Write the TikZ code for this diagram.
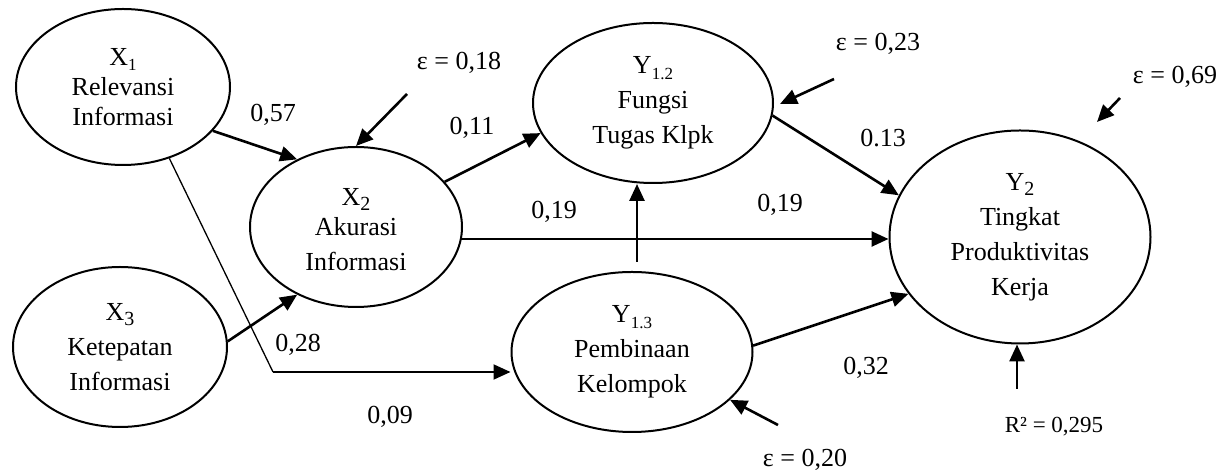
\documentclass[tikz,border=0pt]{standalone}
\usepackage{fontspec}
\setmainfont{Liberation Serif}
\usetikzlibrary{shapes.geometric,arrows.meta,calc}
\newcommand{\subs}[1]{\raisebox{-0.45ex}{\fontsize{8.5}{9}\selectfont #1}}
\newcommand{\subl}[1]{\raisebox{-0.45ex}{\fontsize{10}{10}\selectfont #1}}
\begin{document}
\begin{tikzpicture}[x=0.5pt,y=-0.5pt,
  latent/.style={draw, ellipse, line width=1pt, inner sep=0pt, align=center,
    font=\fontsize{13}{17.5}\selectfont},
  lbl/.style={inner sep=0pt, font=\fontsize{13}{15}\selectfont},
  smalllbl/.style={inner sep=0pt, font=\fontsize{11.5}{13}\selectfont},
  arr/.style={line width=1.3pt, -{Triangle[length=8.5pt,width=7.5pt]}},
  arrthin/.style={line width=1pt, -{Triangle[length=8.5pt,width=7.5pt]}},
  thinline/.style={line width=0.65pt}]
\useasboundingbox (0,0) rectangle (1232,474);

% latent variables
\node[latent, minimum width=107pt, minimum height=78pt,
  font=\fontsize{13}{15}\selectfont] (X1) at (123,87) {X\subs{1}\\Relevansi\\Informasi};
\node[latent, minimum width=106pt, minimum height=80pt] (X2) at (356,227) {\raisebox{-2.5pt}[\height][\depth]{X\subl{2}}\\Akurasi\\Informasi};
\node[latent, minimum width=107pt, minimum height=80pt] (X3) at (120,347) {X\subl{3}\\Ketepatan\\Informasi};
\node[latent, minimum width=120pt, minimum height=80pt] (Y12) at (653,103) {Y\subs{1.2}\\Fungsi\\Tugas Klpk};
\node[latent, minimum width=120.5pt, minimum height=80pt] (Y13) at (632,352) {Y\subs{1.3}\\Pembinaan\\Kelompok};
\node[latent, minimum width=130.5pt, minimum height=106.5pt] (Y2) at (1020,237) {Y\subl{2}\\Tingkat\\Produktivitas\\Kerja};

% labels
\node[lbl] (e18) at (459,63) {ε = 0,18};
\node[lbl] (l057) at (273,115) {0,57};
\node[lbl] (l011) at (472,128) {0,11};
\node[lbl] (l019a) at (554,212) {0,19};
\node[lbl] (l019b) at (780,205) {0,19};
\node[lbl] (e23) at (878,44) {ε = 0,23};
\node[lbl] (l013) at (883,138) {0.13};
\node[lbl] (e69) at (1175,77) {ε = 0,69};
\node[lbl] (l032) at (866,368) {0,32};
\node[smalllbl] (r2) at (1054,427) {R² = 0,295};
\node[lbl] (e20) at (805,460) {ε = 0,20};
\node[lbl] (l028) at (298,345) {0,28};
\node[lbl] (l009) at (390,417) {0,09};

% free ends
\coordinate (a18) at (407,94);
\coordinate (a23) at (834,79);
\coordinate (a69s) at (1120,98);
\coordinate (a69e) at (1097,122);
\coordinate (rs) at (1017,389);
\coordinate (a20) at (778,425);
\coordinate (c1) at (273,372);

% paths
\draw[arr] (X1.-26) -- (X2.131);
\draw[arr] (a18) -- (X2.north);
\draw[arr] (X2.27) -- (Y12.195);
\draw[arr] ($(Y13.north)+(5,-9)$) coordinate (v1) -- (v1 |- Y12.south);
\draw[arr] ($(X2.east)+(-3,12)$) coordinate (h1) -- (h1 -| Y2.west);
\draw[arr] (Y12.-6) -- (Y2.161);
\draw[arr] (a23) -- ($(Y12.east)+(6,1)$);
\draw[arr] (a69s) -- (a69e);
\draw[arr] (Y13.3) -- (Y2.207);
\draw[arr] (rs) -- (rs |- Y2.south);
\draw[arr] (X3.3) -- (X2.229);
\draw[thinline] (X1.-57) -- (c1);
\draw[arrthin] (c1) -- (c1 -| Y13.west);
\draw[arr] (a20) -- (Y13.-26);
\end{tikzpicture}
\end{document}
